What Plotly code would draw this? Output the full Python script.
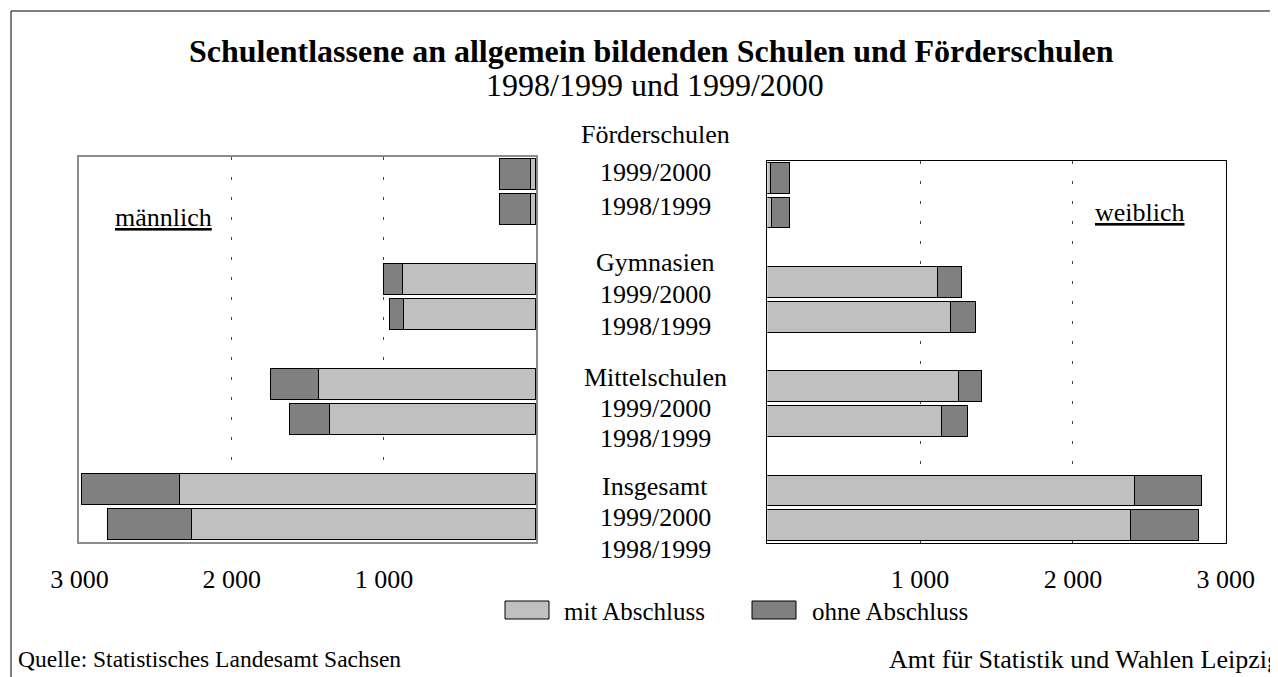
import plotly.graph_objects as go

# Schulentlassene nach Schulart, Jahrgang und Geschlecht
schularten = ["Förderschulen", "Gymnasien", "Mittelschulen", "Insgesamt"]
jahre = ["1999/2000", "1998/1999"]

maennlich_mit_9900 = [33, 872, 1424, 2334]
maennlich_ohne_9900 = [199, 125, 317, 644]
maennlich_mit_9899 = [31, 865, 1353, 2258]
maennlich_ohne_9899 = [205, 94, 263, 552]

weiblich_mit_9900 = [26, 1122, 1257, 2406]
weiblich_ohne_9900 = [127, 157, 153, 439]
weiblich_mit_9899 = [33, 1204, 1143, 2380]
weiblich_ohne_9899 = [116, 162, 170, 450]

tick_werte = [1000, 2000, 3000]
tick_text = ["1 000", "2 000", "3 000"]

W, H = 1278, 677
RAND = 8  # Seitenrand des Browsers
FONT = "Liberation Serif, Times New Roman, serif"
HELL = "#c0c0c0"
DUNKEL = "#808080"


def px(x):
    return (x - RAND) / W


def py(y):
    return 1 - (y - RAND) / H


# Kategorien mit Leerzeilen zwischen den Schularten
kategorien = []
for i, s in enumerate(schularten):
    if i > 0:
        kategorien.append("luecke" + str(i))
    for j in jahre:
        kategorien.append(s + " " + j)

daten = {
    ("m", "1999/2000"): (maennlich_mit_9900, maennlich_ohne_9900),
    ("m", "1998/1999"): (maennlich_mit_9899, maennlich_ohne_9899),
    ("w", "1999/2000"): (weiblich_mit_9900, weiblich_ohne_9900),
    ("w", "1998/1999"): (weiblich_mit_9899, weiblich_ohne_9899),
}

fig = go.Figure()

for seite, xa, ya in [("m", "x", "y"), ("w", "x2", "y2")]:
    # erst "mit Abschluss" (innen), dann "ohne Abschluss" (außen)
    for teil, farbe in [(0, HELL), (1, DUNKEL)]:
        for j in jahre:
            werte = daten[(seite, j)][teil]
            fig.add_trace(go.Bar(
                x=werte,
                y=[s + " " + j for s in schularten],
                orientation="h",
                xaxis=xa,
                yaxis=ya,
                width=0.88,
                marker=dict(color=farbe, line=dict(color="black", width=1)),
                showlegend=False,
                hoverinfo="x",
            ))

achse_x = dict(
    tickvals=tick_werte,
    ticktext=tick_text,
    showgrid=True,
    gridcolor="#444444",
    gridwidth=1,
    griddash="3px,17px",
    zeroline=False,
    ticks="",
    ticklabelstandoff=13,
    tickfont=dict(family=FONT, size=26, color="black"),
    showline=True,
    mirror=True,
)
achse_y = dict(
    type="category",
    categoryorder="array",
    categoryarray=kategorien,
    range=[len(kategorien) - 0.5, -0.5],
    showticklabels=False,
    showgrid=False,
    zeroline=False,
    ticks="",
    showline=True,
    mirror=True,
)

fig.update_layout(
    width=W,
    height=H,
    margin=dict(l=0, r=0, t=0, b=0, autoexpand=False),
    paper_bgcolor="white",
    plot_bgcolor="white",
    barmode="stack",
    bargap=0,
    font=dict(family=FONT, color="black"),
    xaxis=dict(achse_x, domain=[px(79.4), px(536.2)], range=[3000, 0],
               anchor="y", linecolor="#8c8c8c", linewidth=2),
    yaxis=dict(achse_y, domain=[py(542), py(157)], anchor="x",
               linecolor="#8c8c8c", linewidth=2),
    xaxis2=dict(achse_x, domain=[px(767.3), px(1225.7)], range=[0, 3000],
                anchor="y2", linecolor="black", linewidth=1),
    yaxis2=dict(achse_y, domain=[py(543), py(161)], anchor="x2",
                linecolor="black", linewidth=1),
)

texte = [
    ("<b>Schulentlassene an allgemein bildenden Schulen und Förderschulen</b>", 652, 51, 32, "center"),
    ("1998/1999 und 1999/2000", 655, 85, 32, "center"),
    ("<u>männlich</u>", 163, 217, 26, "center"),
    ("<u>weiblich</u>", 1140, 212, 26, "center"),
    ("mit Abschluss", 562, 611, 25, "left"),
    ("ohne Abschluss", 810, 611, 25, "left"),
    ("Quelle: Statistisches Landesamt Sachsen", 16, 659, 23.5, "left"),
    ("Amt für Statistik und Wahlen Leipzig", 887, 659, 26, "left"),
]

# Beschriftung in der Mitte
mitte_y = [(134, 172, 206), (263, 294, 326), (377, 408, 438), (486, 518, 549)]
for s, (y0, y1, y2) in zip(schularten, mitte_y):
    texte.append((s, 655, y0, 26, "center"))
    texte.append((jahre[0], 655, y1, 26, "center"))
    texte.append((jahre[1], 655, y2, 26, "center"))

for t, x, y, size, anchor in texte:
    fig.add_annotation(
        text=t, x=px(x), y=py(y), xref="paper", yref="paper",
        xanchor=anchor, yanchor="middle", showarrow=False,
        font=dict(family=FONT, size=size, color="black"),
    )

# Legendenkästchen
for x0, farbe in [(505, HELL), (752, DUNKEL)]:
    fig.add_shape(type="rect", xref="paper", yref="paper",
                  x0=px(x0), x1=px(x0 + 44), y0=py(619), y1=py(601),
                  fillcolor=farbe, line=dict(color="black", width=1))

# Rahmen oben und links
fig.add_shape(type="line", xref="paper", yref="paper",
              x0=px(11), x1=1, y0=py(11), y1=py(11),
              line=dict(color="black", width=1))
fig.add_shape(type="line", xref="paper", yref="paper",
              x0=px(11), x1=px(11), y0=py(11), y1=0,
              line=dict(color="black", width=1))

fig.write_html("out.html")
